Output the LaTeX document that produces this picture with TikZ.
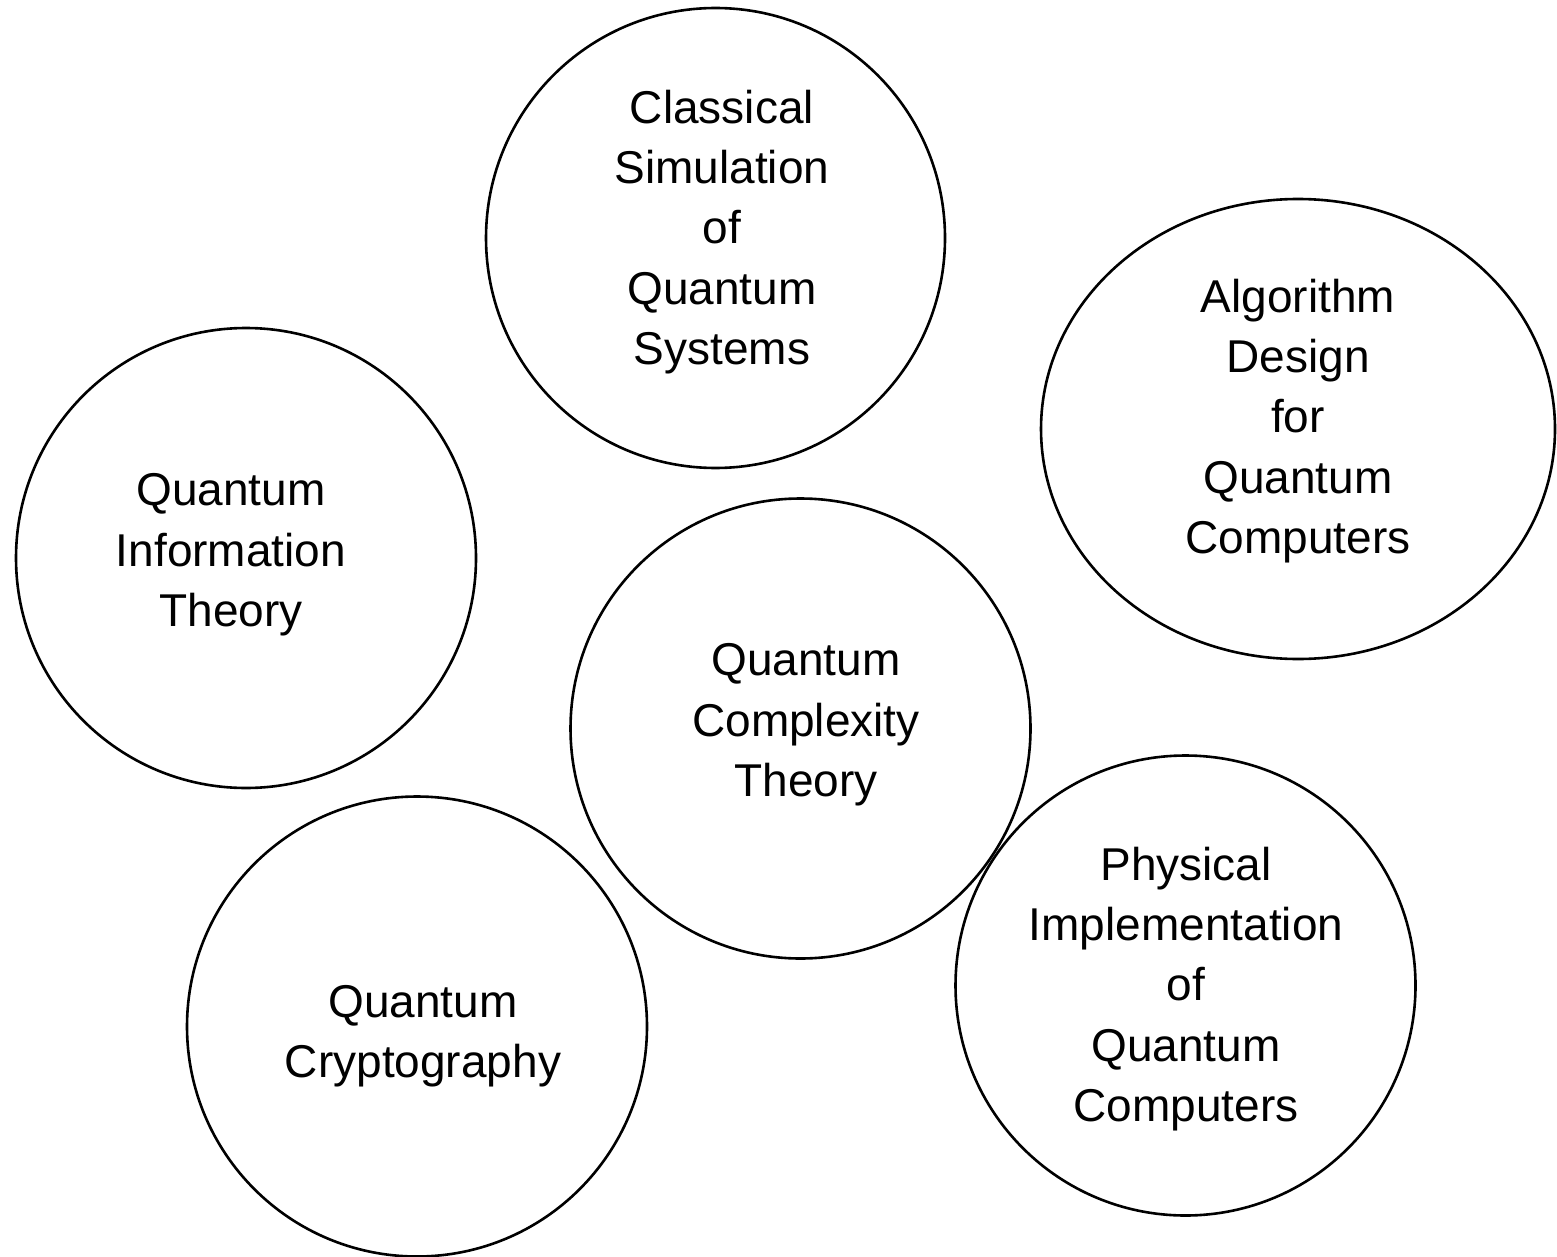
\documentclass[tikz,border=0pt]{standalone}
\usepackage{fontspec}
\setmainfont{Liberation Sans}
\usetikzlibrary{shapes.geometric}
\begin{document}
\begin{tikzpicture}[x=0.5pt,y=-0.5pt,
  area/.style={draw=black,line width=1.3pt,ellipse,inner sep=0pt},
  lbl/.style={align=center,font=\fontsize{23}{30.2}\selectfont,inner sep=0pt}]
\useasboundingbox (0,0) rectangle (1557,1257);
\node[area,minimum width=229.5pt,minimum height=230pt] (cs) at (715.5,238) {};
\node[area,minimum width=257pt,minimum height=230pt] (ad) at (1298,429) {};
\node[area,minimum width=230pt,minimum height=230pt] (qi) at (246,558) {};
\node[area,minimum width=230pt,minimum height=230pt] (qc) at (800.5,728.5) {};
\node[area,minimum width=230pt,minimum height=230pt] (pi) at (1185.5,985.5) {};
\node[area,minimum width=230pt,minimum height=230pt] (cr) at (417,1026.5) {};
\node[lbl] (cst) at (722,232) {Classical\\Simulation\\of\\Quantum\\Systems};
\node[lbl] (adt) at (1298,421) {Algorithm\\Design\\for\\Quantum\\Computers};
\node[lbl] (qit) at (231,555) {Quantum\\Information\\Theory};
\node[lbl] (qct) at (806,725) {Quantum\\Complexity\\Theory};
\node[lbl] (pit) at (1186,989) {Physical\\Implementation\\of\\Quantum\\Computers};
\node[lbl] (crt) at (423,1036) {Quantum\\Cryptography};
\end{tikzpicture}
\end{document}
